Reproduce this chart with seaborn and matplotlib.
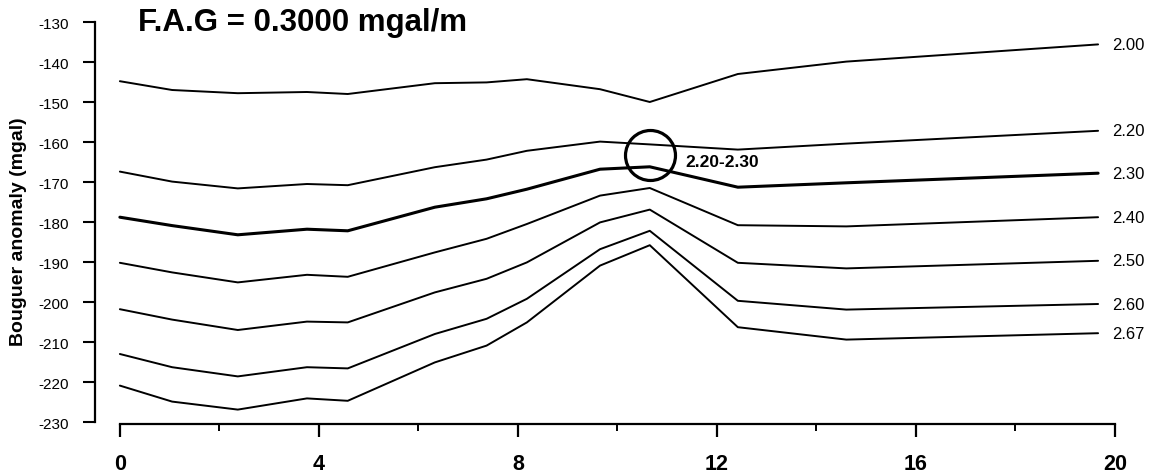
import matplotlib
matplotlib.use("Agg")
import matplotlib.pyplot as plt
import seaborn as sns
import pandas as pd

# ---- data ----
distance = [0, 1.05, 2.37, 3.76, 4.58, 6.33, 7.37, 8.18, 9.65, 10.65, 12.42, 14.6, 19.66]
densities = ["2.00", "2.20", "2.30", "2.40", "2.50", "2.60", "2.67"]
anom_200 = [-144.8, -147.0, -147.8, -147.5, -148.0, -145.3, -145.1, -144.3, -146.8, -150.0, -143.0, -139.9, -135.6]
anom_220 = [-167.4, -169.9, -171.6, -170.5, -170.8, -166.3, -164.4, -162.2, -159.9, -160.6, -161.9, -160.4, -157.2]
anom_230 = [-178.8, -180.9, -183.2, -181.8, -182.2, -176.3, -174.2, -171.8, -166.8, -166.2, -171.3, -170.2, -167.8]
anom_240 = [-190.2, -192.6, -195.1, -193.2, -193.7, -187.6, -184.2, -180.5, -173.4, -171.5, -180.8, -181.1, -178.8]
anom_250 = [-201.8, -204.4, -207.0, -204.9, -205.1, -197.6, -194.2, -190.1, -180.1, -176.9, -190.2, -191.6, -189.7]
anom_260 = [-213.0, -216.3, -218.6, -216.3, -216.6, -208.0, -204.2, -199.2, -186.8, -182.2, -199.7, -201.9, -200.5]
anom_267 = [-220.9, -224.9, -226.9, -224.1, -224.7, -215.1, -210.9, -205.1, -190.9, -185.8, -206.3, -209.4, -207.8]
series = [anom_200, anom_220, anom_230, anom_240, anom_250, anom_260, anom_267]

circle_x = [10.66]
circle_y = [-163.2]
circle_label = "2.20-2.30"
title_text = "F.A.G = 0.3000 mgal/m"
y_ticks = list(range(-230, -129, 10))
x_ticks = [0, 4, 8, 12, 16, 20]
x_minor = [2, 6, 10, 14, 18]
y_label = "Bouguer anomaly (mgal)"

rows = []
for d, vals in zip(densities, series):
    for x, v in zip(distance, vals):
        rows.append({"distance": x, "anomaly": v, "density": d})
df = pd.DataFrame(rows)

sns.set_style("white")
plt.rcParams["font.family"] = ["Liberation Sans", "DejaVu Sans"]
plt.rcParams["text.color"] = "black"
plt.rcParams["axes.labelcolor"] = "black"
plt.rcParams["xtick.color"] = "black"
plt.rcParams["ytick.color"] = "black"

fig = plt.figure(figsize=(11.61, 4.77), dpi=100)
ax = fig.add_axes([95 / 1161, 52 / 477, 1020 / 1161, 402 / 477])

for d in densities:
    sub = df[df["density"] == d]
    lw = 2.2 if d == "2.30" else 1.4
    sns.lineplot(data=sub, x="distance", y="anomaly", ax=ax, color="black",
                 linewidth=lw, legend=False, estimator=None, sort=False)
    ax.text(19.95, sub["anomaly"].iloc[-1], d, ha="left", va="center",
            fontsize=12, color="black", clip_on=False)

ax.plot(circle_x, circle_y, marker="o", ms=36, mfc="none", mec="black", mew=2.3, ls="none")
ax.text(11.36, -164.9, circle_label, ha="left", va="center", fontsize=12.5,
        fontweight="bold", color="black")

ax.set_xlim(-0.5, 20)
ax.set_ylim(-230.5, -130)
ax.set_yticks(y_ticks)
ax.set_yticklabels([str(t) for t in y_ticks])
ax.set_xticks(x_ticks)
ax.set_xticks(x_minor, minor=True)
ax.set_xticklabels([str(t) for t in x_ticks], fontsize=15.5, fontweight="bold")
for lab in ax.get_yticklabels():
    lab.set_fontsize(11)

ax.spines["top"].set_visible(False)
ax.spines["right"].set_visible(False)
ax.spines["left"].set_bounds(-230, -130)
ax.spines["bottom"].set_bounds(0, 20)
for s in ("left", "bottom"):
    ax.spines[s].set_linewidth(1.6)
    ax.spines[s].set_color("black")

ax.tick_params(axis="y", direction="out", length=9, width=1.5, pad=10, left=True, colors="black")
ax.tick_params(axis="x", which="major", direction="out", length=9, width=1.6, pad=12, bottom=True, colors="black")
ax.tick_params(axis="x", which="minor", direction="out", length=5, width=1.4, bottom=True, colors="black")

ax.set_xlabel("")
ax.set_ylabel(y_label, fontsize=14, fontweight="bold", color="black")
ax.yaxis.set_label_coords(-68 / 1020, (425 - 232) / 402)

fig.text(138 / 1161, 1 - 23 / 477, title_text, ha="left", va="center",
         fontsize=22.5, fontweight="bold", color="black")

fig.savefig("out.png", dpi=100, facecolor="white")
